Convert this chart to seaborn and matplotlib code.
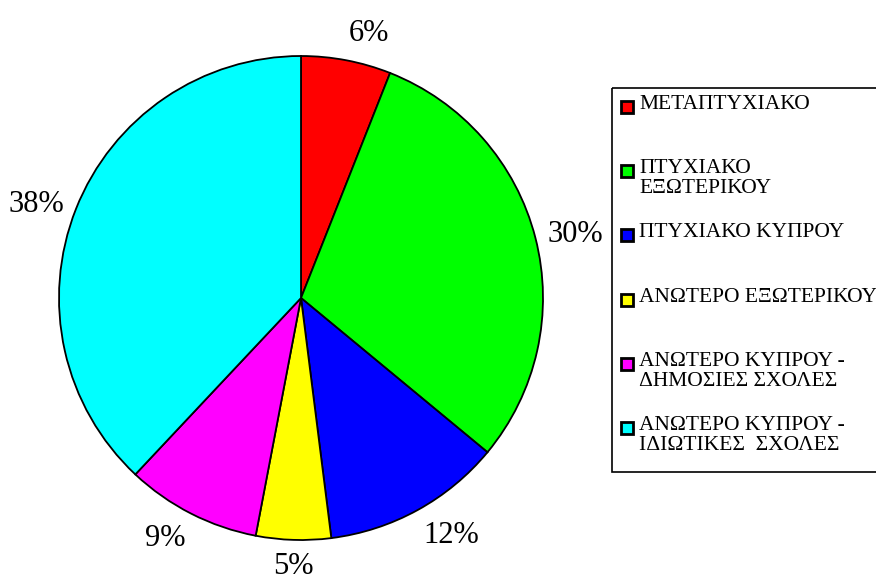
import numpy as np
import matplotlib
matplotlib.use("Agg")
import matplotlib.pyplot as plt
from matplotlib.patches import Rectangle
import seaborn as sns

# data
categories = ["ΜΕΤΑΠΤΥΧΙΑΚΟ", "ΠΤΥΧΙΑΚΟ\nΕΞΩΤΕΡΙΚΟΥ", "ΠΤΥΧΙΑΚΟ ΚΥΠΡΟΥ",
              "ΑΝΩΤΕΡΟ ΕΞΩΤΕΡΙΚΟΥ", "ΑΝΩΤΕΡΟ ΚΥΠΡΟΥ -\nΔΗΜΟΣΙΕΣ ΣΧΟΛΕΣ",
              "ΑΝΩΤΕΡΟ ΚΥΠΡΟΥ -\nΙΔΙΩΤΙΚΕΣ  ΣΧΟΛΕΣ"]
shares = [6, 30, 12, 5, 9, 38]
colors = ["#FF0000", "#00FF00", "#0000FF", "#FFFF00", "#FF00FF", "#00FFFF"]

sns.set_style("white")
plt.rcParams['font.family'] = ['Liberation Serif', 'DejaVu Serif']
plt.rcParams['text.color'] = 'black'

W, H = 876, 579
fig = plt.figure(figsize=(W / 100, H / 100), dpi=100)

# pie: centre (301, 298) px, radius 242 px
cx, cy, r = 301, 298, 242
ax = fig.add_axes([(cx - r) / W, (H - cy - r) / H, 2 * r / W, 2 * r / H])
wedges, texts = ax.pie(shares, colors=colors, startangle=90, counterclock=False,
                       labels=[f"{s}%" for s in shares], labeldistance=1.05,
                       wedgeprops=dict(edgecolor="black", linewidth=1.3),
                       textprops=dict(fontsize=22, color="black"))
ax.set_xlim(-1, 1)
ax.set_ylim(-1, 1)
ax.set_aspect("equal")
ax.axis("off")

for w, t in zip(wedges, texts):
    ang = np.deg2rad((w.theta1 + w.theta2) / 2)
    x, y = np.cos(ang), np.sin(ang)
    t.set_ha("left" if x > 0.15 else "right" if x < -0.25 else "center")
    t.set_va("bottom" if y > 0.4 else "top" if y < -0.4 else "center")

# legend box drawn in pixel coordinates
lg = fig.add_axes([0, 0, 1, 1])
lg.set_xlim(0, W)
lg.set_ylim(H, 0)
lg.axis("off")
lg.add_patch(Rectangle((612, 88), 300, 384, fill=False, edgecolor="black", linewidth=1.2))

slot = 64.2
for i, (lab, c) in enumerate(zip(categories, colors)):
    y0 = 107 + i * slot
    lg.add_patch(Rectangle((621, y0 - 6), 12, 12, facecolor=c, edgecolor="black", linewidth=2))
    lg.text(639, y0 - 12, lab, fontsize=15.5, va="top", ha="left", linespacing=1.05,
            color="black")

fig.savefig("out.png", dpi=100)
